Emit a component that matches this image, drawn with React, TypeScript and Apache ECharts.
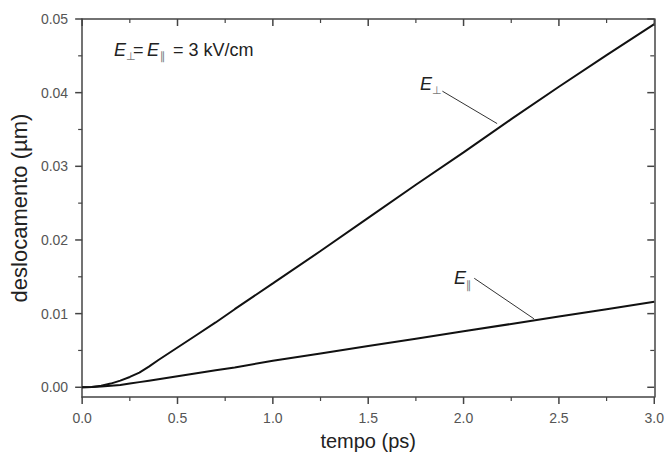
import React, { useEffect, useRef } from "react";
import * as echarts from "echarts";

const tempo = [0, 0.05, 0.1, 0.15, 0.2, 0.25, 0.3, 0.35, 0.4, 0.5, 0.6, 0.7, 0.8, 1.0, 1.25, 1.5, 1.75, 2.0, 2.25, 2.5, 2.75, 3.0];
const ePerp = [0, 0.00005, 0.0002, 0.0005, 0.0009, 0.0014, 0.002, 0.0028, 0.0037, 0.0054, 0.0071, 0.0088, 0.0106, 0.0141, 0.0185, 0.023, 0.0275, 0.0319, 0.0364, 0.0408, 0.0451, 0.0493];
const ePar = [0, 0.00003, 0.0001, 0.0002, 0.0003, 0.0005, 0.0007, 0.0009, 0.0011, 0.0015, 0.0019, 0.0023, 0.0027, 0.0036, 0.0046, 0.0056, 0.0066, 0.0076, 0.0086, 0.0096, 0.0106, 0.0116];

const xMajor = [0, 0.5, 1.0, 1.5, 2.0, 2.5, 3.0];
const xMinor = [0.25, 0.75, 1.25, 1.75, 2.25, 2.75];
const yMajor = [0, 0.01, 0.02, 0.03, 0.04, 0.05];
const yMinor = [0.005, 0.015, 0.025, 0.035, 0.045];

// arrow annotations: [from, to] in data coordinates
const arrowPerp = [[1.889, 0.0402], [2.176, 0.0358]];
const arrowPar = [[2.056, 0.0148], [2.369, 0.0093]];

const FONT = 'Arial, "Liberation Sans", Helvetica, sans-serif';
const SYM = '"DejaVu Sans", "Noto Sans", sans-serif';
const AX = "#444";
const X_MIN = 0;
const X_MAX = 3;
const Y_MIN = -0.00132;
const Y_MAX = 0.05;

export default function App() {
  const ref = useRef<HTMLDivElement>(null);
  useEffect(() => {
    if (!ref.current) return;
    const chart = echarts.init(ref.current, undefined, { renderer: "svg" });

    const arrowLine = (a: number[][]) => ({
      silent: true,
      symbol: ["none", "arrow"],
      symbolSize: [0, 7],
      label: { show: false },
      lineStyle: { color: "#333", width: 1, type: "solid" },
      data: [[{ coord: a[0] }, { coord: a[1] }]],
    });
    const sub = (text: string, left: number, top: number) => ({
      type: "text", left, top, style: { text, font: `11px ${SYM}`, fill: "#777" },
    });
    const main = (text: string, left: number, top: number, italic: boolean) => ({
      type: "text", left, top, style: { text, font: `${italic ? "italic " : ""}18px ${FONT}`, fill: "#222" },
    });
    const plainAxis = (position: string, isX: boolean) => ({
      type: "value",
      position,
      ...(isX ? { min: X_MIN, max: X_MAX } : { min: Y_MIN, max: Y_MAX }),
      axisLine: { show: true, onZero: false, lineStyle: { color: AX, width: 1.5 } },
      axisTick: { show: false },
      axisLabel: { show: false },
      splitLine: { show: false },
    });
    const texts = [
      main("E", 114, 41, true),
      sub("⊥", 126, 51),
      main("=", 133, 41, false),
      main("E", 147, 41, true),
      sub("∥", 160, 51),
      main("= 3 kV/cm", 173, 41, false),
      main("E", 420, 75, true),
      sub("⊥", 432, 85),
      main("E", 454, 269, true),
      sub("∥", 466, 280),
    ];

    chart.setOption({
      animation: false,
      backgroundColor: "#fff",
      grid: { left: 81, right: 11, top: 19, bottom: 48 },
      xAxis: [
        {
          type: "value",
          min: X_MIN,
          max: X_MAX,
          interval: 0.5,
          position: "bottom",
          name: "tempo (ps)",
          nameLocation: "middle",
          nameGap: 34,
          nameTextStyle: { fontFamily: FONT, fontSize: 20, color: "#222" },
          axisLine: { show: true, onZero: false, lineStyle: { color: AX, width: 1.5 } },
          axisTick: { show: false },
          axisLabel: { fontFamily: FONT, fontSize: 14, color: "#555", margin: 14, formatter: (v: number) => v.toFixed(1) },
          splitLine: { show: false },
        },
        plainAxis("top", true),
      ],
      yAxis: [
        {
          type: "value",
          min: Y_MIN,
          max: Y_MAX,
          position: "left",
          name: "deslocamento (\u00b5m)",
          nameLocation: "middle",
          nameGap: 50,
          nameTextStyle: { fontFamily: FONT, fontSize: 22, color: "#222" },
          axisLine: { show: true, onZero: false, lineStyle: { color: AX, width: 1.5 } },
          axisTick: { show: false },
          axisLabel: { fontFamily: FONT, fontSize: 14, color: "#555", margin: 14, customValues: yMajor, formatter: (v: number) => v.toFixed(2) },
          splitLine: { show: false },
        },
        plainAxis("right", false),
      ],
      series: [
        {
          name: "E⊥",
          type: "line",
          data: tempo.map((t, i) => [t, ePerp[i]]),
          showSymbol: false,
          lineStyle: { color: "#111", width: 2 },
          markLine: arrowLine(arrowPerp),
        },
        {
          name: "E∥",
          type: "line",
          data: tempo.map((t, i) => [t, ePar[i]]),
          showSymbol: false,
          lineStyle: { color: "#111", width: 2 },
          markLine: arrowLine(arrowPar),
        },
      ],
      graphic: texts,
    });

    // tick marks placed through the chart's own scales
    const toPx = (p: number[]) => chart.convertToPixel({ gridIndex: 0 }, p) as number[];
    const left = toPx([X_MIN, 0])[0];
    const right = toPx([X_MAX, 0])[0];
    const top = toPx([0, Y_MAX])[1];
    const bottom = toPx([0, Y_MIN])[1];
    const seg = (x1: number, y1: number, x2: number, y2: number, w: number) => ({
      type: "line", silent: true, z: 100,
      shape: { x1, y1, x2, y2 },
      style: { stroke: AX, lineWidth: w },
    });
    const tickEls: any[] = [];
    const xTicks = (vals: number[], len: number, w: number) => vals.forEach((v) => {
      const px = toPx([v, 0])[0];
      tickEls.push(seg(px, bottom, px, bottom + len, w));
      tickEls.push(seg(px, top, px, top + len, w));
    });
    const yTicks = (vals: number[], len: number, w: number) => vals.forEach((v) => {
      const py = toPx([0, v])[1];
      tickEls.push(seg(left - len, py, left, py, w));
      tickEls.push(seg(right - len, py, right, py, w));
    });
    xTicks(xMajor, 7, 1.5);
    xTicks(xMinor, 4, 1.2);
    yTicks(yMajor, 7, 1.5);
    yTicks(yMinor, 4, 1.2);
    chart.setOption({ graphic: [...texts, ...tickEls] });

    return () => chart.dispose();
  }, []);
  return <div ref={ref} style={{ width: 667, height: 456, position: "absolute", left: 0, top: 0 }} />;
}
